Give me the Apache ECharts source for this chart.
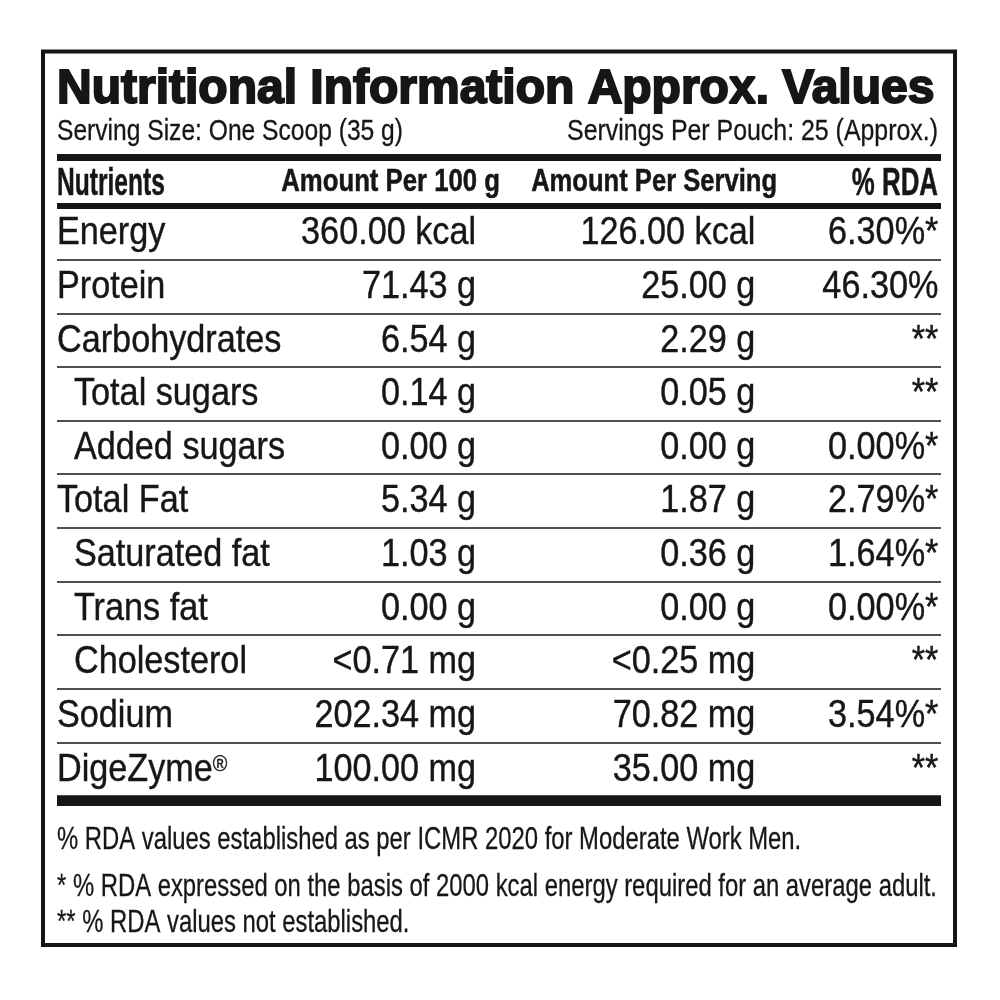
<!DOCTYPE html>
<html>
<head>
<meta charset="utf-8">
<script src="https://cdn.jsdelivr.net/npm/echarts@6/dist/echarts.min.js"></script>
<style>html,body{margin:0;padding:0;background:#fff}#c{width:1000px;height:1000px}</style>
</head>
<body>
<div id="c"></div>
<script>
// ---------------- data ----------------
const TITLE = 'Nutritional Information Approx. Values';
const SERVING_SIZE = 'Serving Size: One Scoop (35 g)';
const SERVINGS_PER_POUCH = 'Servings Per Pouch: 25 (Approx.)';
const COLUMNS = ['Nutrients', 'Amount Per 100 g', 'Amount Per Serving', '% RDA'];
const NUTRIENTS = ['Energy', 'Protein', 'Carbohydrates', 'Total sugars', 'Added sugars', 'Total Fat',
  'Saturated fat', 'Trans fat', 'Cholesterol', 'Sodium', 'DigeZyme®'];
const SUB_ROW = [0, 0, 0, 1, 1, 0, 1, 1, 1, 0, 0];
const PER_100G = ['360.00 kcal', '71.43 g', '6.54 g', '0.14 g', '0.00 g', '5.34 g', '1.03 g', '0.00 g',
  '<0.71 mg', '202.34 mg', '100.00 mg'];
const PER_SERVING = ['126.00 kcal', '25.00 g', '2.29 g', '0.05 g', '0.00 g', '1.87 g', '0.36 g', '0.00 g',
  '<0.25 mg', '70.82 mg', '35.00 mg'];
const RDA = ['6.30%*', '46.30%', '**', '**', '0.00%*', '2.79%*', '1.64%*', '0.00%*', '**', '3.54%*', '**'];
const FOOTNOTES = [
  '% RDA values established as per ICMR 2020 for Moderate Work Men.',
  '* % RDA expressed on the basis of 2000 kcal energy required for an average adult.',
  '** % RDA values not established.'
];

// ---------------- layout / style ----------------
const INK = '#161616';
const FONT = '"Liberation Sans", Arial, Helvetica, sans-serif';
const TABLE_LEFT = 57, TABLE_RIGHT = 941, TABLE_TOP = 206, TABLE_BOTTOM = 796;
const COL_ANCHOR = [0, 0.474, 0.79, 0.997];      // fraction of table width
const COL_ALIGN = ['left', 'right', 'right', 'right'];
const INDENT = 17;
const BODY_SIZE = 38, BODY_SCALE = 0.9, ROW_TEXT_SHIFT = 1;
const HEADER_X = [57, 500, 777, 938];
const HEADER_ALIGN = ['left', 'right', 'right', 'right'];
const HEADER_SIZE = [39, 31, 31, 38];
const HEADER_SCALE = [0.63, 0.83, 0.825, 0.68];
const HEADER_Y = [184, 182.5, 182.5, 185];
const FOOT_Y = [840, 887, 923];

const TABLE = [NUTRIENTS, PER_100G, PER_SERVING, RDA];
const cells = [];
for (let r = 0; r < NUTRIENTS.length; r++) {
  for (let c = 0; c < TABLE.length; c++) cells.push([c, r]);
}

function txt(x, y, text, o) {
  return {
    type: 'text', x: x, y: y, scaleX: o.scale || 1, silent: true,
    style: {
      text: text, align: o.align || 'left', verticalAlign: 'middle',
      fontSize: o.size, fontFamily: FONT, fontWeight: o.weight || 'normal',
      fill: INK, stroke: o.stroke ? INK : null, lineWidth: o.stroke || 0
    }
  };
}
function rule(y, h) {
  return { type: 'rect', silent: true, shape: { x: TABLE_LEFT, y: y, width: TABLE_RIGHT - TABLE_LEFT, height: h },
    style: { fill: INK } };
}

const graphics = [
  { type: 'rect', silent: true, shape: { x: 43, y: 51.5, width: 912, height: 893.5 },
    style: { fill: null, stroke: INK, lineWidth: 4 } },
  txt(57, 90, TITLE, { size: 48, weight: 'bold', stroke: 2 }),
  txt(57, 131.5, SERVING_SIZE, { size: 30, scale: 0.82, stroke: 0.3 }),
  txt(938, 131.5, SERVINGS_PER_POUCH, { size: 30, scale: 0.83, align: 'right', stroke: 0.3 }),
  rule(154, 7),
  rule(203, 6),
  rule(TABLE_BOTTOM, 10)
];
COLUMNS.forEach((h, i) => {
  graphics.push(txt(HEADER_X[i], HEADER_Y[i], h, {
    size: HEADER_SIZE[i], scale: HEADER_SCALE[i], weight: 'bold', align: HEADER_ALIGN[i], stroke: 0.5
  }));
});
FOOTNOTES.forEach((f, i) => graphics.push(txt(57, FOOT_Y[i], f, { size: 32, scale: 0.745, stroke: 0.3 })));

const chart = echarts.init(document.getElementById('c'), null, { renderer: 'canvas' });
chart.setOption({
  animation: false,
  backgroundColor: '#ffffff',
  grid: { left: TABLE_LEFT, top: TABLE_TOP, width: TABLE_RIGHT - TABLE_LEFT, height: TABLE_BOTTOM - TABLE_TOP },
  xAxis: { type: 'value', min: 0, max: 1, show: false },
  yAxis: {
    type: 'category', data: NUTRIENTS, inverse: true,
    axisLine: { show: false }, axisTick: { show: false }, axisLabel: { show: false },
    splitLine: { show: true, interval: 0, lineStyle: { color: INK, width: 1.6 } }
  },
  graphic: graphics,
  series: [{
    type: 'custom',
    data: cells,
    encode: { x: 0, y: 1 },
    renderItem: function (params, api) {
      const c = api.value(0), r = api.value(1);
      const p = api.coord([COL_ANCHOR[c], r]);
      const raw = TABLE[c][r];
      const isName = c === 0;
      const x = p[0] + (isName && SUB_ROW[r] ? INDENT : 0);
      const style = {
        text: raw, align: COL_ALIGN[c], verticalAlign: 'middle',
        fontSize: BODY_SIZE, fontFamily: FONT, fill: INK, stroke: INK, lineWidth: 0.4
      };
      if (raw.indexOf('®') >= 0) {
        style.text = raw.replace('®', '{r|®}');
        style.rich = { r: { fontSize: 22, fontFamily: FONT, fill: INK, verticalAlign: 'top', padding: [3, 0, 0, 0] } };
      }
      return { type: 'text', x: x, y: p[1] + ROW_TEXT_SHIFT, scaleX: BODY_SCALE, style: style };
    }
  }]
});
</script>
</body>
</html>
